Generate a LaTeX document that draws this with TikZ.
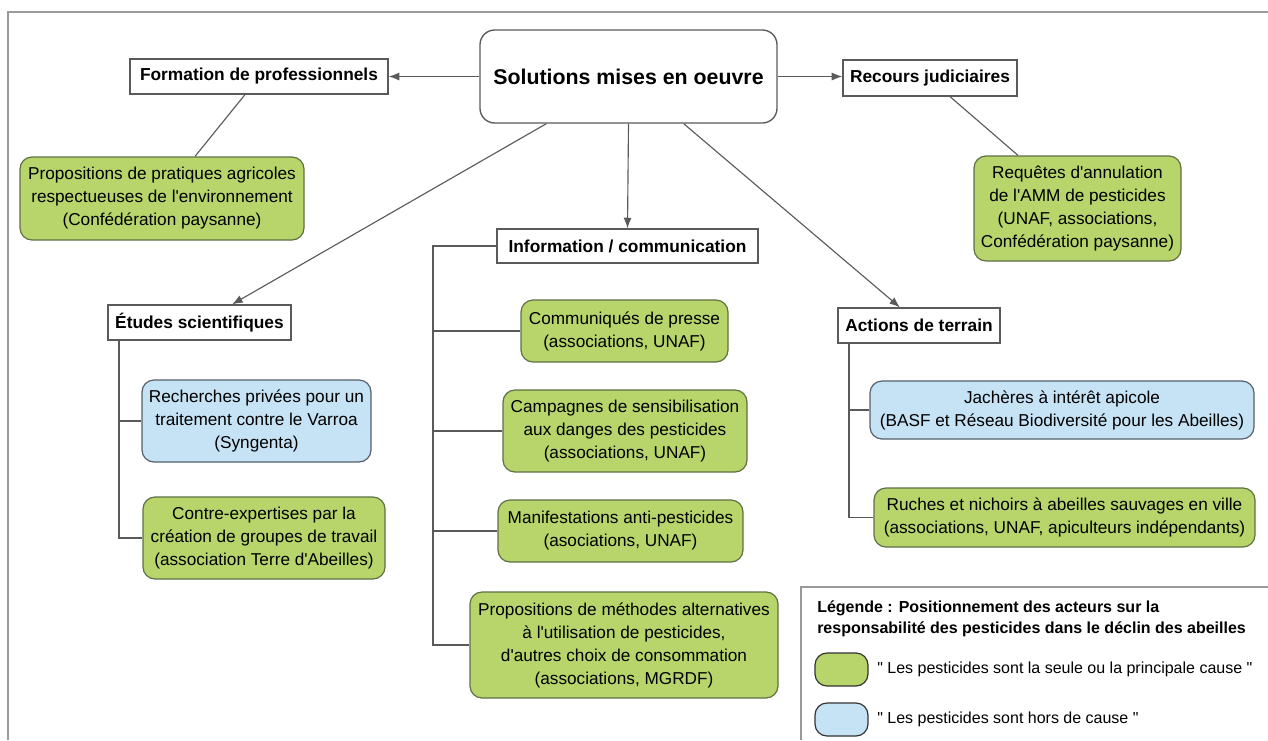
\documentclass[tikz,border=0pt]{standalone}
\usepackage{fontspec}
\setmainfont{Liberation Sans}
\usetikzlibrary{arrows.meta}
\definecolor{gfill}{HTML}{B7D56B}
\definecolor{gborder}{HTML}{5E7044}
\definecolor{bfill}{HTML}{C6E2F5}
\definecolor{bborder}{HTML}{55606A}
\definecolor{lgray}{HTML}{5A5A5A}
\definecolor{fgray}{HTML}{9A9A9A}
\newcommand\ap{\textquotesingle}
\tikzset{
  place/.style n args={4}{minimum width={(#3-#1)*0.75pt}, minimum height={(#4-#2)*0.75pt}, at={({(#1+#3)/2},{(#2+#4)/2})}},
  gbox/.style={draw=gborder, fill=gfill, rounded corners=9pt, line width=0.9pt, align=center, inner sep=0pt, font=\fontsize{12.9}{17.25}\selectfont},
  bbox/.style={gbox, draw=bborder, fill=bfill},
  hbox/.style={draw=lgray, fill=white, line width=0.9pt, align=center, inner sep=0pt, font=\fontsize{13}{16}\selectfont\bfseries},
  mainbox/.style={draw=lgray, fill=white, line width=1pt, rounded corners=11pt, align=center, inner sep=0pt, font=\fontsize{16}{20}\selectfont\bfseries},
  conn/.style={draw=lgray, line width=0.85pt},
  arr/.style={conn, -{Latex[length=8pt,width=6pt]}},
  swatch/.style={draw=black!80, line width=0.9pt, rounded corners=9pt, inner sep=0pt},
  legtext/.style={anchor=west, inner sep=0pt, font=\fontsize{12}{15}\selectfont},
}
\begin{document}
\begin{tikzpicture}[x=0.75pt,y=-0.75pt]
\useasboundingbox (0,0) rectangle (1268,740);
% outer frame
\draw[fgray, line width=1pt] (8,740) -- (8,12) -- (1268,12);

% main and headers
\node[mainbox, place={480}{30}{777}{123}] (main) {Solutions mises en oeuvre};
\node[hbox, place={130}{59}{388}{94}] (form) {Formation de professionnels};
\node[hbox, place={843}{60}{1017}{96}] (recours) {Recours judiciaires};
\node[hbox, place={497}{229}{758}{263}] (info) {Information / communication};
\node[hbox, place={108}{305}{291}{340}] (etudes) {Études scientifiques};
\node[hbox, place={838}{308}{1000}{343}] (actions) {Actions de terrain};

% leaves
\node[gbox, place={20}{157}{304}{240}] (prop1) {Propositions de pratiques agricoles\\respectueuses de l\ap environnement\\(Confédération paysanne)};
\node[gbox, place={974}{156}{1181}{261}] (req) {Requêtes d\ap annulation\\de l\ap AMM de pesticides\\(UNAF, associations,\\Confédération paysanne)};
\node[gbox, place={521}{300}{728}{362}] (comm) {Communiqués de presse\\(associations, UNAF)};
\node[gbox, place={503}{390}{747}{472}] (camp) {Campagnes de sensibilisation\\aux danges des pesticides\\(associations, UNAF)};
\node[gbox, place={498}{500}{743}{562}] (manif) {Manifestations anti-pesticides\\(asociations, UNAF)};
\node[gbox, place={470}{592}{778}{698}] (meth) {Propositions de méthodes alternatives\\à l\ap utilisation de pesticides,\\d\ap autres choix de consommation\\(associations, MGRDF)};
\node[bbox, place={142}{380}{371}{462}] (rech) {Recherches privées pour un\\traitement contre le Varroa\\(Syngenta)};
\node[gbox, place={143}{497}{385}{579}] (contre) {Contre-expertises par la\\création de groupes de travail\\(association Terre d\ap Abeilles)};
\node[bbox, place={870}{381}{1254}{439}] (jach) {Jachères à intérêt apicole\\(BASF et Réseau Biodiversité pour les Abeilles)};
\node[gbox, place={874}{488}{1255}{547}] (ruches) {Ruches et nichoirs à abeilles sauvages en ville\\(associations, UNAF, apiculteurs indépendants)};

% arrows from main
\draw[arr] (main.west) -- (main.west -| form.east);
\draw[arr] (main.east) -- (main.east -| recours.west);
\draw[arr] (main.south) -- (info.north);
\draw[arr] ([xshift=50.25pt]main.south west) -- ([xshift=24.4pt]etudes.north);
\draw[arr] ([xshift=-70.5pt]main.south east) -- ([xshift=-14.25pt]actions.north);

% plain links
\draw[conn] ([xshift=-10.5pt]form.south) -- ([xshift=24.75pt]prop1.north);
\draw[conn] ([xshift=15pt]recours.south) -- ([xshift=-44.6pt]req.north);

% information tree
\coordinate (ib) at (433,645);
\draw[conn] (info.west) -| (ib) -- (meth.west);
\draw[conn] (comm.west) -- (comm.west -| ib);
\draw[conn] (camp.west) -- (camp.west -| ib);
\draw[conn] (manif.west) -- (manif.west -| ib);

% etudes tree
\coordinate (eb) at (119,538);
\draw[conn] (eb |- etudes.south) -- (eb) -- (contre.west);
\draw[conn] (rech.west) -- (rech.west -| eb);

% actions tree
\coordinate (ab) at (849,517.5);
\draw[conn] (ab |- actions.south) -- (ab) -- (ruches.west);
\draw[conn] (jach.west) -- (jach.west -| ab);

% legend
\draw[fgray, line width=1pt] (1268,587) -- (801,587) -- (801,740);
\node[anchor=north west, align=left, inner sep=0pt, font=\fontsize{12}{15.75}\selectfont\bfseries] (legtitle) at (817,600) {Légende : Positionnement des acteurs sur la\\responsabilité des pesticides dans le déclin des abeilles};
\node[swatch, fill=gfill, place={815}{653}{868}{686}] (sw1) {};
\node[swatch, fill=bfill, place={815}{703}{868}{736}] (sw2) {};
\node[legtext] (lt1) at (877,669) {\textquotedbl{} Les pesticides sont la seule ou la principale cause \textquotedbl};
\node[legtext] (lt2) at (877,719) {\textquotedbl{} Les pesticides sont hors de cause \textquotedbl};
\end{tikzpicture}
\end{document}
